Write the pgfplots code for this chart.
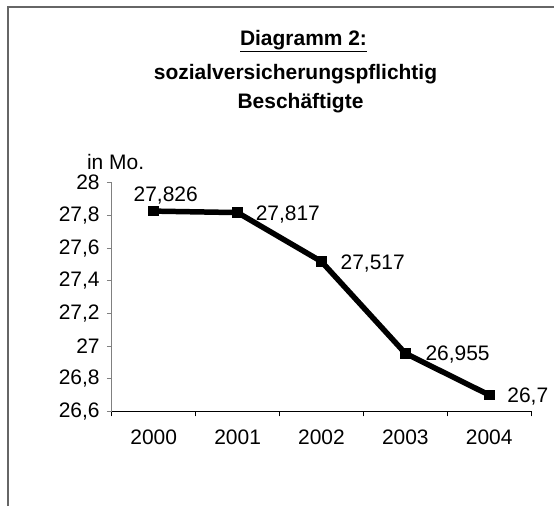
\documentclass[border=0pt]{standalone}
\usepackage{pgfplots}
\pgfplotsset{compat=1.18}
\usepackage{fontspec}
\setmainfont{Liberation Sans}
\newcommand{\lbl}{\fontsize{21}{25}\selectfont}
\newcommand{\ttl}{\fontsize{21}{25}\selectfont\bfseries}
\begin{document}
\begin{tikzpicture}[x=1pt,y=1pt]
\path (0,0) rectangle (555,507);
\draw[gray!80!black, line width=1.8pt] (8,0) -- (8,500) -- (555,500);
\node[font=\ttl] at (304,466) {\underline{Diagramm 2:}};
\node[font=\ttl] at (296,433) {sozialversicherungspflichtig};
\node[font=\ttl] at (301,404) {Beschäftigte};
\node[font=\lbl, anchor=base west, inner sep=0pt] at (87,337) {in Mo.};
\begin{axis}[
  at={(112pt,95pt)}, anchor=south west,
  scale only axis, width=420pt, height=229pt,
  xmin=-0.5, xmax=4.5, ymin=26.6, ymax=28,
  clip=false,
  axis x line=bottom, axis y line=left,
  axis line style={-},
  x axis line style={black, line width=0.8pt},
  y axis line style={gray, line width=0.8pt},
  tick align=outside,
  major tick length=5pt,
  xtick={-0.5,0.5,1.5,2.5,3.5,4.5},
  xticklabels={},
  x tick style={black, line width=0.8pt},
  y tick style={gray, line width=0.8pt},
  extra x ticks={0,1,2,3,4},
  extra x tick labels={2000,2001,2002,2003,2004},
  extra x tick style={major tick length=0pt, xticklabel style={yshift=-18pt}},
  ytick={26.6,26.8,27,27.2,27.4,27.6,27.8,28},
  yticklabel style={font=\lbl, inner sep=0pt, xshift=-7pt},
  xticklabel style={font=\lbl, inner sep=0pt},
  /pgf/number format/.cd, use comma, 1000 sep={}, assume math mode=true,
]
\addplot[black, line width=5.5pt, mark=square*, mark size=2.6pt, mark options={solid}] coordinates {
  (0,27.826) (1,27.817) (2,27.517) (3,26.955) (4,26.7)
};
\node[font=\lbl, anchor=base, inner sep=0pt, xshift=12pt, yshift=9.5pt] at (axis cs:0,27.826) {27,826};
\node[font=\lbl, anchor=base west, inner sep=0pt, xshift=18pt, yshift=-7.5pt] at (axis cs:1,27.817) {27,817};
\node[font=\lbl, anchor=base west, inner sep=0pt, xshift=19pt, yshift=-7.5pt] at (axis cs:2,27.517) {27,517};
\node[font=\lbl, anchor=base west, inner sep=0pt, xshift=20pt, yshift=-7.5pt] at (axis cs:3,26.955) {26,955};
\node[font=\lbl, anchor=base west, inner sep=0pt, xshift=18pt, yshift=-7.5pt] at (axis cs:4,26.7) {26,7};
\end{axis}
\end{tikzpicture}
\end{document}
